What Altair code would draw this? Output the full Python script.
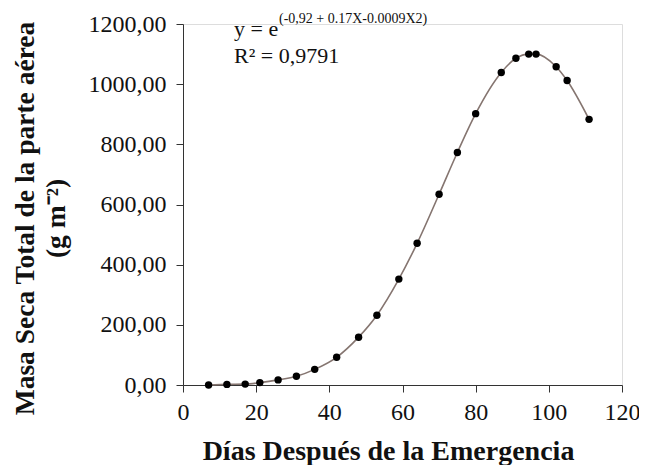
import altair as alt
import pandas as pd

days = [7, 12, 17, 21, 26, 31, 36, 42, 48, 53, 59, 64, 70, 75, 80, 87, 91, 94.5, 96.5, 102, 105, 111]
mass = [0, 2, 3, 8, 17, 29, 52, 92, 159, 232, 352, 471, 634, 773, 902, 1039, 1086, 1100, 1100, 1058, 1012, 883]

df = pd.DataFrame({"dias": days, "masa": mass})
one = pd.DataFrame({"k": [0]})

FONT = "Liberation Serif"

x = alt.X("dias:Q", scale=alt.Scale(domain=[0, 120], nice=False, zero=True),
          axis=alt.Axis(values=[0, 20, 40, 60, 80, 100, 120], title="Días Después de la Emergencia",
                        grid=False, tickSize=7, labelPadding=8, titlePadding=13, titleX=205,
                        labelFontSize=24, titleFontSize=28, titleFontWeight="bold",
                        labelFont=FONT, titleFont=FONT, domainColor="#333", tickColor="#333",
                        labelColor="#111", titleColor="#111", labelFlush=False))
y = alt.Y("masa:Q", scale=alt.Scale(domain=[0, 1200], nice=False),
          axis=alt.Axis(values=[0, 200, 400, 600, 800, 1000, 1200],
                        labelExpr="replace(format(datum.value, '.2f'), '.', ',')",
                        title=["Masa Seca Total de la parte aérea", "(g m⁻²)"],
                        grid=False, tickSize=7, labelPadding=10, titlePadding=18, titleY=194,
                        labelFontSize=24, titleFontSize=27.5, titleFontWeight="bold",
                        labelFont=FONT, titleFont=FONT, domainColor="#333", tickColor="#333",
                        labelColor="#111", titleColor="#111", titleLineHeight=31))

line = alt.Chart(df).mark_line(color="#857570", strokeWidth=1.6, interpolate="monotone").encode(x=x, y=y)
pts = alt.Chart(df).mark_circle(color="#000", size=55, opacity=1).encode(x="dias:Q", y="masa:Q")

eq1 = alt.Chart(one).mark_text(text="y = e", font=FONT, fontSize=22, align="left", baseline="alphabetic",
                               color="#111").encode(x=alt.value(51), y=alt.value(12))
eq2 = alt.Chart(one).mark_text(text="(-0,92 + 0.17X-0.0009X2)", font=FONT, fontSize=14, align="left",
                               baseline="alphabetic", color="#111").encode(x=alt.value(96), y=alt.value(-1))
eq3 = alt.Chart(one).mark_text(text="R² = 0,9791", font=FONT, fontSize=22, align="left", baseline="alphabetic",
                               color="#111").encode(x=alt.value(51), y=alt.value(39))

chart = alt.layer(line, pts, eq1, eq2, eq3).properties(
    width=439, height=361,
    autosize=alt.AutoSizeParams(type="none"),
    padding={"left": 175, "top": 16, "right": 17, "bottom": 80},
).configure_view(stroke=None).configure(background="white")

chart.save("out.html", embed_options={"renderer": "svg", "actions": False})
